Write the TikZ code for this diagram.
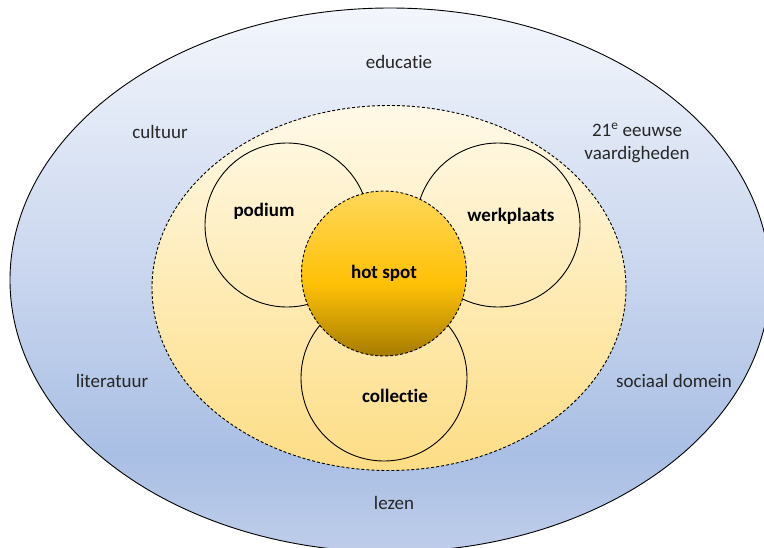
\documentclass[tikz,border=0pt]{standalone}
\usepackage{fontspec}
\setmainfont{Carlito}[Ligatures={NoCommon,NoRare,NoContextual}]
\usetikzlibrary{shapes.geometric}
\definecolor{obot}{HTML}{BFCDEA}
\definecolor{omid1}{HTML}{A9BFE4}
\definecolor{omid2}{HTML}{C8D5EE}
\definecolor{otop}{HTML}{F3F6FC}
\definecolor{ibot}{HTML}{FDDD85}
\definecolor{imid}{HTML}{FEEBB5}
\definecolor{itop}{HTML}{FFF9E8}
\definecolor{hbot}{HTML}{A67C00}
\definecolor{hmid}{HTML}{FFC107}
\definecolor{htop}{HTML}{FFD75A}
\pgfdeclareverticalshading{outershade}{100bp}{color(0bp)=(obot); color(25bp)=(obot); color(34bp)=(omid1); color(50bp)=(omid2); color(75bp)=(otop); color(100bp)=(otop)}
\pgfdeclareverticalshading{innershade}{100bp}{color(0bp)=(ibot); color(25bp)=(ibot); color(50bp)=(imid); color(75bp)=(itop); color(100bp)=(itop)}
\pgfdeclareverticalshading{hotshade}{100bp}{color(0bp)=(hbot); color(25bp)=(hbot); color(47bp)=(hmid); color(75bp)=(htop); color(100bp)=(htop)}
\begin{document}
\begin{tikzpicture}[x=1pt,y=-1pt,
  every node/.style={font=\fontsize{19}{23}\selectfont, text=black!85},
  bigshape/.style={ellipse, inner sep=0pt, outer sep=0pt, line width=0.9pt, draw=black},
  ring/.style={circle, inner sep=0pt, minimum size=164pt, draw=black, line width=0.9pt},
  dashline/.style={dash pattern=on 3pt off 2pt},
  lbl/.style={align=center},
  blbl/.style={font=\fontsize{19}{23}\selectfont\bfseries, text=black}]
\useasboundingbox (0,0) rectangle (764,547);
\clip (0,0) rectangle (764,547);
\node[bigshape, minimum width=760pt, minimum height=544pt, shading=outershade] (outer) at (390,280) {};
\node[bigshape, dashline, minimum width=474pt, minimum height=365pt, shading=innershade] (inner) at (389,288) {};
\node[ring] (podium) at (287,225) {};
\node[ring] (werkplaats) at (498,225) {};
\node[ring, minimum size=166pt] (collectie) at (384,378) {};
\node[circle, inner sep=0pt, minimum size=165pt, draw=black, line width=0.9pt, dashline, shading=hotshade, blbl] (hotspot) at (384,273.5) {hot spot};
\node[blbl] (lpodium) at (264,211) {podium};
\node[blbl] (lwerk) at (511,216) {werkplaats};
\node[blbl] (lcoll) at (395,396) {collectie};
\node[lbl] (educatie) at (399,62) {educatie};
\node[lbl] (cultuur) at (160,132) {cultuur};
\node[lbl] (eeuw) at (637,143) {21\textsuperscript{e} eeuwse\\vaardigheden};
\node[lbl] (literatuur) at (112,381) {literatuur};
\node[lbl] (sociaal) at (674,381) {sociaal domein};
\node[lbl] (lezen) at (394,503) {lezen};
\end{tikzpicture}
\end{document}
